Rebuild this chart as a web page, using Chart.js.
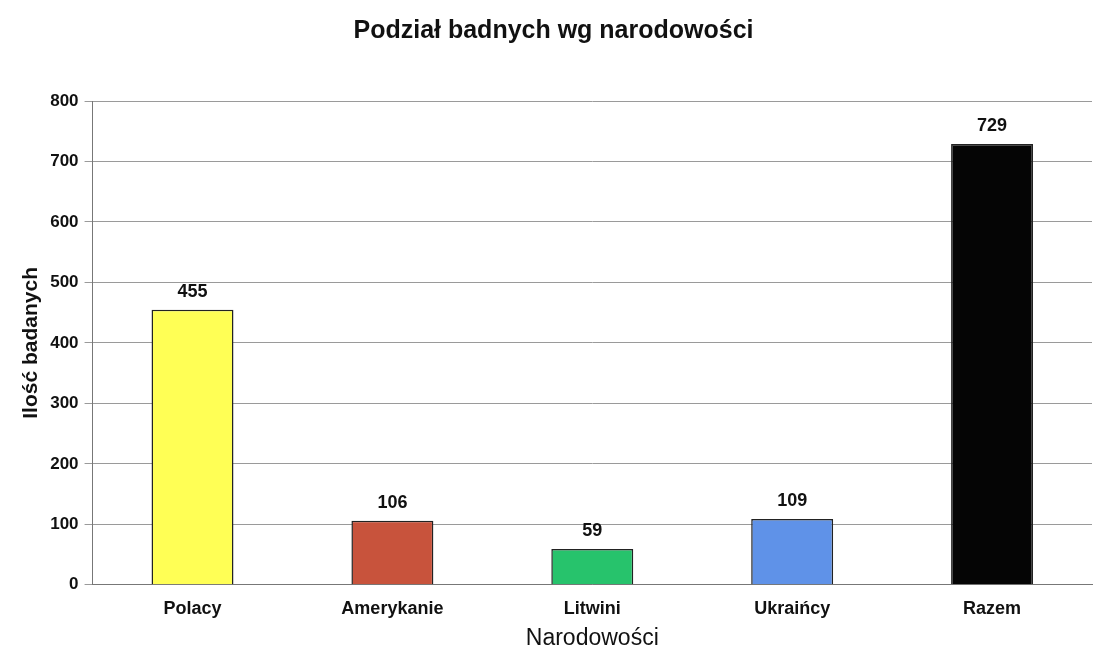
<!DOCTYPE html>
<html><head><meta charset="utf-8">
<script src="https://cdn.jsdelivr.net/npm/chart.js@4.4.1/dist/chart.umd.min.js"></script>
<style>html,body{margin:0;padding:0;background:#fff;}#wrap{width:1094px;height:650px;}</style>
</head><body><div id="wrap"><canvas id="c" width="1094" height="650"></canvas></div>
<script>
const categories = ["Polacy", "Amerykanie", "Litwini", "Ukraińcy", "Razem"];
const values = [455, 106, 59, 109, 729];
const barColors = ["#ffff55", "#c8533c", "#27c36c", "#5f92e8", "#050505"];
const yTicks = [0, 100, 200, 300, 400, 500, 600, 700, 800];

const FONT = '"Liberation Sans", Arial, sans-serif';

const labelPlugin = {
  id: 'labels',
  afterDatasetsDraw(chart) {
    const ctx = chart.ctx;
    const meta = chart.getDatasetMeta(0);
    ctx.save();
    ctx.font = 'bold 18px ' + FONT;
    ctx.fillStyle = '#111';
    ctx.textAlign = 'center';
    ctx.textBaseline = 'bottom';
    meta.data.forEach((bar, i) => {
      ctx.fillText(String(values[i]), bar.x, bar.y - 9);
    });
    ctx.restore();
  }
};

new Chart(document.getElementById('c'), {
  type: 'bar',
  data: {
    labels: categories,
    datasets: [{
      data: values,
      backgroundColor: barColors,
      borderColor: "#222",
      borderWidth: 1.5,
      barPercentage: 0.41,
      categoryPercentage: 1.0
    }]
  },
  options: {
    responsive: false,
    animation: false,
    layout: { padding: { left: 15, right: 2, top: 8, bottom: 0 } },
    plugins: {
      legend: { display: false },
      tooltip: { enabled: false },
      title: {
        display: true,
        text: 'Podział badnych wg narodowości',
        color: '#111',
        font: { family: FONT, size: 25, weight: 'bold' },
        padding: { top: 8, bottom: 55 }
      }
    },
    scales: {
      y: {
        min: 0, max: 800,
        afterBuildTicks(axis) { axis.ticks = yTicks.map(v => ({ value: v })); },
        ticks: {
          color: '#111',
          padding: 6,
          font: { family: FONT, size: 17, weight: 'bold' }
        },
        grid: { color: '#9a9a9a', lineWidth: 1, tickLength: 8, drawTicks: true },
        border: { color: '#777', width: 1 },
        title: {
          display: true,
          text: 'Ilość badanych',
          color: '#111',
          font: { family: FONT, size: 21, weight: 'bold' },
          padding: { top: 4, bottom: 0 }
        }
      },
      x: {
        ticks: {
          color: '#111',
          padding: 13,
          font: { family: FONT, size: 18, weight: 'bold' }
        },
        grid: { display: false, drawTicks: false },
        border: { color: '#777', width: 1 },
        title: {
          display: true,
          text: 'Narodowości',
          color: '#111',
          font: { family: FONT, size: 23 },
          padding: { top: -8, bottom: -2 }
        }
      }
    }
  },
  plugins: [labelPlugin]
});
</script>
</body></html>
